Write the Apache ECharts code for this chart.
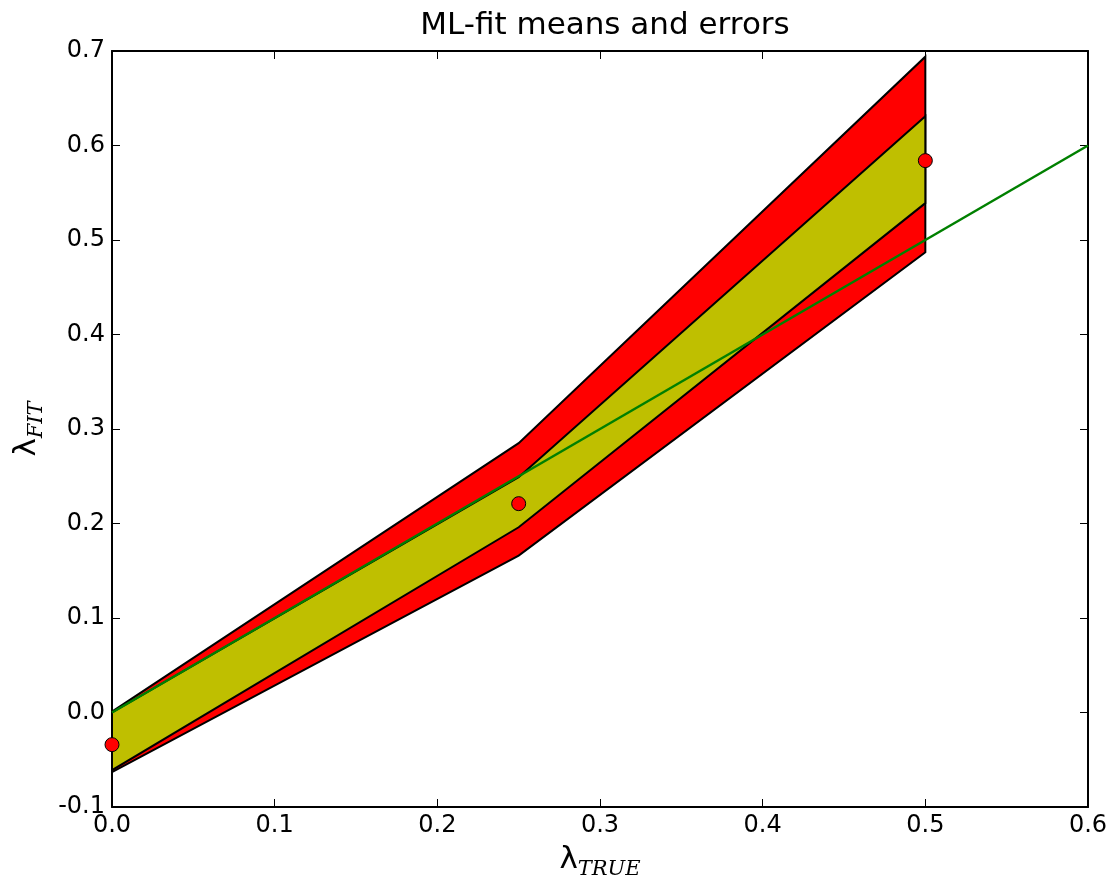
<!DOCTYPE html>
<html lang="en">
<head>
    <meta charset="UTF-8">
    <title>ML-fit means and errors</title>
    <script src="https://cdn.jsdelivr.net/npm/echarts@6/dist/echarts.min.js"></script>
    <style>
        html, body { margin: 0; padding: 0; background: #fff; }
        #charts { width: 1112px; height: 880px; }
    </style>
</head>
<body>
<div id="charts"></div>

<script>
    // data
    var xTrue      = [0.0, 0.25, 0.5];
    var outerUpper = [0.001, 0.285, 0.694];
    var innerUpper = [0.0, 0.249, 0.631];
    var innerLower = [-0.061, 0.196, 0.539];
    var outerLower = [-0.063, 0.166, 0.487];
    var fitMeans   = [-0.034, 0.221, 0.584];
    var idealLine  = [[0.0, 0.0], [0.6, 0.6]];
    var xTicks = [0, 0.1, 0.2, 0.3, 0.4, 0.5, 0.6];
    var yTicks = [-0.1, 0, 0.1, 0.2, 0.3, 0.4, 0.5, 0.6, 0.7];

    var chart = document.getElementById('charts');
    var myChart = echarts.init(chart);

    var font = 'DejaVu Sans';

    // polygon between an upper and a lower edge
    function band(upper, lower, fill) {
        return {
            type: 'custom',
            xAxisIndex: 0,
            yAxisIndex: 0,
            clip: false,
            silent: true,
            data: [0],
            renderItem: function (params, api) {
                var pts = [];
                for (var i = 0; i < xTrue.length; i++) {
                    pts.push(api.coord([xTrue[i], upper[i]]));
                }
                for (var j = xTrue.length - 1; j >= 0; j--) {
                    pts.push(api.coord([xTrue[j], lower[j]]));
                }
                return {
                    type: 'polygon',
                    shape: { points: pts },
                    style: { fill: fill, stroke: '#000', lineWidth: 2, lineJoin: 'miter' }
                };
            }
        };
    }

    function frameAxis(pos, showLabel, ticks) {
        return {
            type: 'value',
            position: pos,
            min: ticks[0],
            max: ticks[ticks.length - 1],
            interval: 0.1,
            axisLine: { show: true, onZero: false, lineStyle: { color: '#000', width: 2 } },
            axisTick: { show: true, inside: true, length: 8, lineStyle: { color: '#000', width: 1 } },
            splitLine: { show: false },
            axisLabel: {
                show: showLabel,
                color: '#000',
                fontFamily: font,
                fontSize: 24,
                margin: 7,
                formatter: function (v) { return (Math.round(v * 10) / 10).toFixed(1); }
            }
        };
    }

    var xMain = frameAxis('bottom', true, xTicks);
    xMain.name = '{l|λ}{s|TRUE}';
    xMain.nameLocation = 'middle';
    xMain.nameGap = 34;
    xMain.nameTextStyle = {
        color: '#000',
        rich: {
            l: { fontFamily: font, fontSize: 31, color: '#000', lineHeight: 34, verticalAlign: 'top' },
            s: { fontFamily: 'DejaVu Serif', fontStyle: 'italic', fontSize: 21, color: '#000', lineHeight: 34, padding: [16, 0, 0, 0] }
        }
    };
    var yMain = frameAxis('left', true, yTicks);
    yMain.name = '{l|λ}{s|FIT}';
    yMain.nameLocation = 'middle';
    yMain.nameGap = 63;
    yMain.nameRotate = 90;
    yMain.nameTextStyle = xMain.nameTextStyle;

    var option = {
        animation: false,
        backgroundColor: '#fff',
        title: {
            text: 'ML-fit means and errors',
            left: 600,
            textAlign: 'center',
            top: 5,
            textStyle: { color: '#000', fontFamily: font, fontSize: 31, fontWeight: 'normal' }
        },
        grid: { left: 112, right: 24, top: 51, bottom: 73, outerBoundsMode: 'none' },
        xAxis: [xMain, frameAxis('top', false, xTicks)],
        yAxis: [yMain, frameAxis('right', false, yTicks)],
        series: [
            band(outerUpper, outerLower, '#ff0000'),
            band(innerUpper, innerLower, '#bfbf00'),
            {
                type: 'line',
                xAxisIndex: 0,
                yAxisIndex: 0,
                data: idealLine,
                symbol: 'none',
                lineStyle: { color: '#008000', width: 2.5 },
                z: 3
            },
            {
                type: 'scatter',
                xAxisIndex: 0,
                yAxisIndex: 0,
                data: xTrue.map(function (x, i) { return [x, fitMeans[i]]; }),
                symbolSize: 14,
                itemStyle: { color: '#ff0000', borderColor: '#000', borderWidth: 1, opacity: 1 },
                z: 4
            }
        ]
    };

    myChart.setOption(option);
</script>
</body>
</html>
